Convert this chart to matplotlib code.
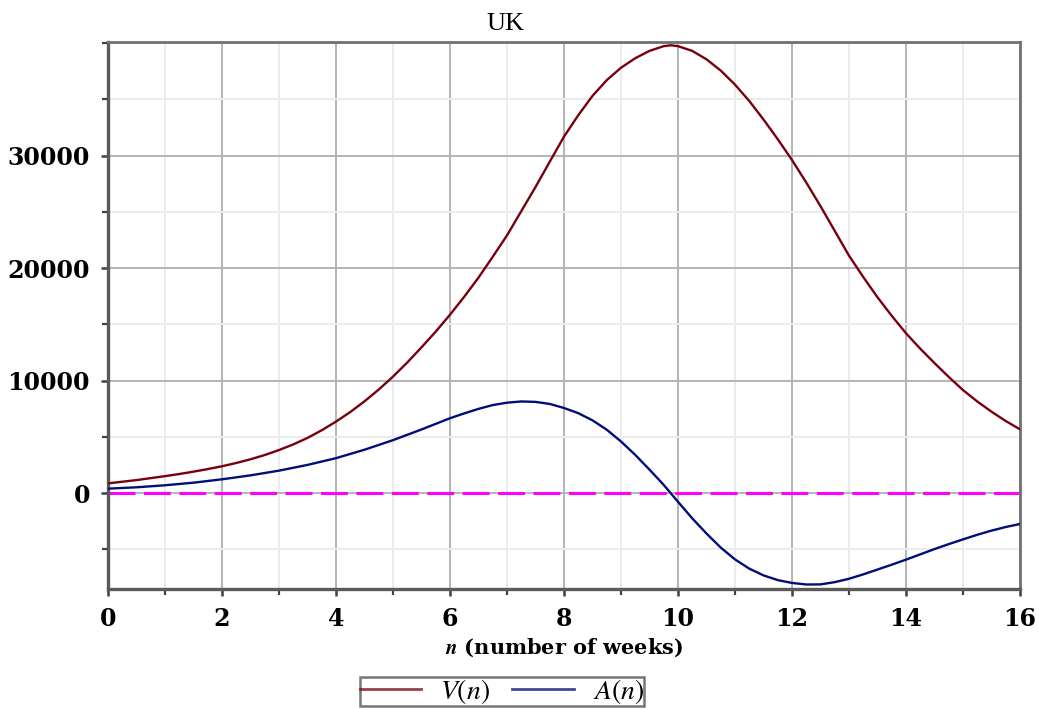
import matplotlib
matplotlib.use("Agg")
import matplotlib.pyplot as plt
from matplotlib.ticker import MultipleLocator

# ---- data ----
weeks_V = [0, 0.5, 1, 1.25, 1.5, 1.75, 2, 2.25, 2.5, 2.75, 3, 3.25, 3.5, 3.75, 4, 4.25,
           4.5, 4.75, 5, 5.25, 5.5, 5.75, 6, 6.25, 6.5, 6.75, 7, 7.25,
           7.5, 7.75, 8, 8.25, 8.5, 8.75, 9, 9.25, 9.5, 9.75, 9.875, 10, 10.25, 10.5,
           10.75, 11, 11.25, 11.5, 11.75, 12, 12.25, 12.5, 12.75, 13, 13.25, 13.5,
           13.75, 14, 14.25, 14.5, 14.75, 15, 15.25, 15.5, 15.75, 16]
V_n = [860, 1150, 1500, 1690, 1900, 2130, 2380, 2670, 3000, 3380, 3820, 4320, 4900,
       5580, 6350, 7200, 8150, 9200, 10350, 11600, 12950, 14350, 15850,
       17450, 19150, 21000, 22900, 25050, 27200, 29450, 31680, 33580, 35300, 36700,
       37800, 38650, 39300, 39720, 39800, 39720, 39300, 38550, 37550, 36300, 34850,
       33200, 31450, 29600, 27600, 25500, 23300, 21100, 19200, 17400, 15750, 14200,
       12830, 11550, 10320, 9150, 8140, 7230, 6400, 5660]

weeks_A = [0, 0.5, 1, 1.5, 2, 2.5, 3, 3.5, 4, 4.5, 5, 5.5, 5.75, 6, 6.25, 6.5, 6.75, 7,
           7.25, 7.5, 7.75, 8, 8.25, 8.5, 8.75, 9, 9.25, 9.5, 9.75, 10, 10.25, 10.5,
           10.75, 11, 11.25, 11.5, 11.75, 12, 12.25, 12.5, 12.75, 13, 13.25, 13.5, 13.75,
           14, 14.25, 14.5, 14.75, 15, 15.25, 15.5, 15.75, 16]
A_n = [390, 510, 690, 920, 1220, 1570, 1990, 2500, 3100, 3850, 4700, 5650, 6150, 6650,
       7080, 7480, 7820, 8030, 8140, 8100, 7920, 7560, 7100, 6460, 5630, 4580, 3390,
       2080, 720, -780, -2250, -3600, -4850, -5900, -6720, -7320, -7740, -7990, -8130,
       -8120, -7920, -7620, -7230, -6800, -6370, -5920, -5450, -4980, -4540, -4120,
       -3710, -3340, -3020, -2750]

zero_x = [0, 16]
zero_y = [0, 0]

title = "UK"
xlabel_text = r"$\boldsymbol{n}$ (number of weeks)"
labels = [r"$V(n)$", r"$A(n)$"]
colors = ["#78000E", "#000E78"]
xticks = [0, 2, 4, 6, 8, 10, 12, 14, 16]
yticks = [0, 10000, 20000, 30000]

plt.rcParams['mathtext.fontset'] = 'stix'

fig = plt.figure(figsize=(10.39, 7.09), dpi=100)
ax = fig.add_axes([108/1039, 1 - 589/709, (1020-108)/1039, (589-42)/709])

ax.set_xlim(0, 16)
ax.set_ylim(-8530, 40090)

ax.xaxis.set_minor_locator(MultipleLocator(1))
ax.yaxis.set_minor_locator(MultipleLocator(5000))

ax.grid(which='major', color='#b4b4b4', linewidth=1.4, zorder=0)
ax.grid(which='minor', color='#ebebeb', linewidth=1.4, zorder=0)
ax.set_axisbelow(True)

l1, = ax.plot(weeks_V, V_n, color=colors[0], linewidth=1.7, zorder=3)
l2, = ax.plot(weeks_A, A_n, color=colors[1], linewidth=1.7, zorder=3)
lw = 2.2
ax.plot(zero_x, zero_y, color='#FF00FF', linewidth=lw,
        linestyle=(0, (19.4/lw, 6.1/lw)), zorder=2)

for s in ax.spines.values():
    s.set_color('#707070')
    s.set_linewidth(2.0)
for k in ('left', 'bottom'):
    ax.spines[k].set_color('#5a5a5a')
    ax.spines[k].set_linewidth(2.4)

tick_font = dict(family='DejaVu Serif', weight='bold', size=17)
ax.tick_params(which='major', direction='out', length=5, width=1.8, color='#404040', pad=8)
ax.tick_params(which='minor', direction='out', length=4, width=1.6, color='#404040')
ax.set_xticks(xticks)
ax.set_xticklabels([str(t) for t in xticks], **tick_font)
ax.set_yticks(yticks)
ax.set_yticklabels([str(t) for t in yticks], **tick_font)

fig.text(506/1039, 1 - 24/709, title, ha='center', va='center',
         fontfamily='Liberation Serif', fontsize=19)
ax.set_xlabel(xlabel_text, fontfamily='DejaVu Serif', fontweight='bold', fontsize=15, labelpad=4)

leg = fig.legend([l1, l2], labels, loc='upper center', bbox_to_anchor=(502/1039, 1 - 677/709),
                 ncol=2, frameon=True, fancybox=False, fontsize=20,
                 handlelength=2.2, handletextpad=0.7, columnspacing=0.8,
                 borderpad=0.0, borderaxespad=0, edgecolor='#555555')
leg.get_frame().set_linewidth(1.8)
for h in leg.get_lines():
    h.set_linewidth(2.0)
    h.set_alpha(0.75)

fig.savefig("out.png", dpi=100)
